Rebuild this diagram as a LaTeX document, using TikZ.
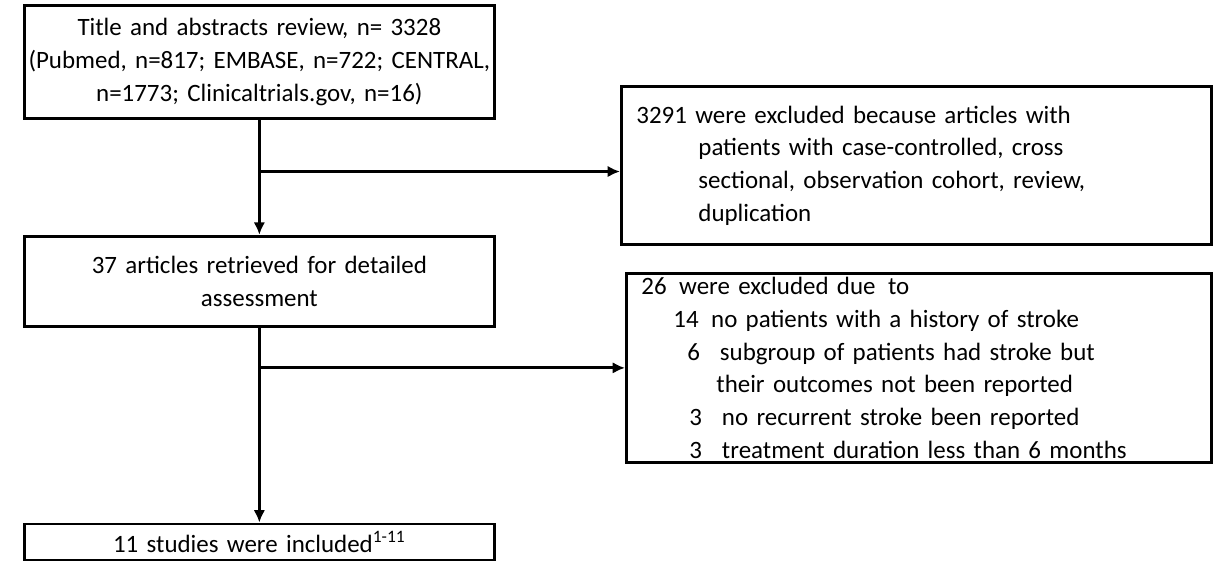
\documentclass[tikz,border=0pt]{standalone}
\usepackage{fontspec}
\setmainfont{Carlito}
\usetikzlibrary{calc}
\usetikzlibrary{positioning}
\usetikzlibrary{arrows.meta}

\begin{document}
\begin{tikzpicture}[
  x=0.02cm, y=-0.02cm,
  every node/.style={draw, node distance=2.3cm},
  every path/.style={line width=1.6pt},
  box/.style={draw, inner sep=0pt, font=\fontsize{14.2}{18.6}\selectfont},
  mainbox/.style={box, align=center, text width=9.4cm},
  sidebox/.style={box, align=left, inner xsep=0.3cm},
  ar/.style={->,>={Latex[length=7pt,width=6.5pt]}},
  ] %
    \useasboundingbox (0,0) rectangle (1216,567);
    % left column
    \node[mainbox, minimum height=2.26cm, anchor=north west](title) at (23,4)
      {Title and abstracts review, n= 3328\\(Pubmed, n=817; EMBASE, n=722; CENTRAL,\\n=1773; Clinicaltrials.gov, n=16)};
    \node[mainbox, minimum height=1.8cm, below=of title](retrieved)
      {37 articles retrieved for detailed\\assessment};
    \node[mainbox, minimum height=0.72cm, below=3.9cm of retrieved](included)
      {11 studies were included\textsuperscript{1-11}};
    % right column
    \node[sidebox, text width=11.2cm, minimum height=3.16cm, anchor=north west](excla) at (620,85)
      {3291 were excluded because articles with\\
       \hspace*{1.24cm}patients with case-controlled, cross\\
       \hspace*{1.24cm}sectional, observation cohort, review,\\
       \hspace*{1.24cm}duplication};
    \node[sidebox, text width=11.1cm, minimum height=3.78cm, anchor=north west](exclb) at (625,272)
      {26\hspace{0.5em}were excluded due\hspace{0.5em}to\\
       \hspace*{0.64cm}14\hspace{0.5em}no patients with a history of stroke\\
       \hspace*{0.92cm}6\hspace{0.8em}subgroup of patients had stroke but\\
       \hspace*{1.5cm}their outcomes not been reported\\
       \hspace*{0.96cm}3\hspace{0.8em}no recurrent stroke been reported\\
       \hspace*{0.96cm}3\hspace{0.8em}treatment duration less than 6 months};
    \coordinate (splita) at ($(title.south)!0.45!(retrieved.north)$);
    \draw[ar](title) -- (retrieved);
    \draw[ar](splita) -- (splita -| excla.west);
    \draw[ar](retrieved) -- (included);
    \draw[ar](retrieved.south |- exclb.west) -- (exclb.west);
  \end{tikzpicture}
\end{document}
